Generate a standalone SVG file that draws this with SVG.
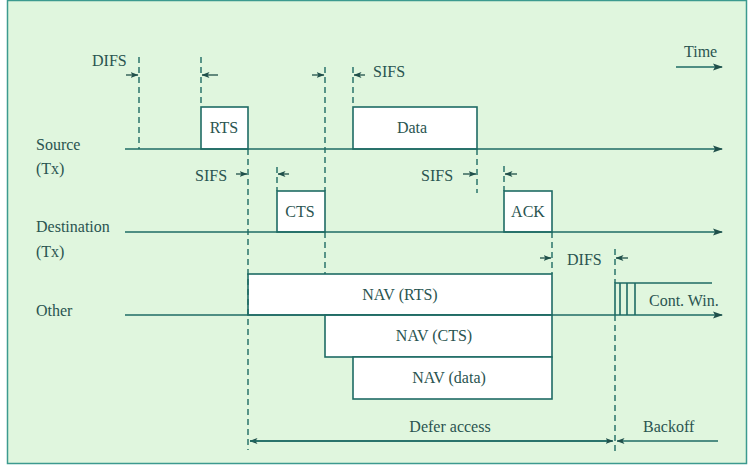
<svg xmlns="http://www.w3.org/2000/svg" width="748" height="468" viewBox="0 0 748 468">
<defs>
<marker id="ah" markerWidth="10" markerHeight="8" refX="9" refY="4" orient="auto" markerUnits="userSpaceOnUse">
<path d="M0,0.5 L10,4 L0,7.5 L2,4 Z" fill="#1f4f4a"/>
</marker>
<marker id="sh" markerWidth="8" markerHeight="6" refX="7.5" refY="3" orient="auto" markerUnits="userSpaceOnUse">
<path d="M0,0 L8,3 L0,6 L2,3 Z" fill="#1f4f4a"/>
</marker>
</defs>
<style>
text{font-family:"Liberation Serif","Times New Roman",serif;font-size:16px;fill:#2a5450}
.c{text-anchor:middle}
.ln{stroke:#1f6b64;stroke-width:1.6;fill:none}
.dash{stroke:#1f6b64;stroke-width:1.4;stroke-dasharray:6,4;fill:none}
.box{fill:#ffffff;stroke:#1f6b64;stroke-width:1.6}
.dim{stroke:#1f4f4a;stroke-width:1.3;fill:none;marker-end:url(#sh)}
</style>
<rect x="7.5" y="0.5" width="739" height="463" fill="#e0f6de" stroke="#3c9a8f" stroke-width="1.5"/>

<g id="labels">
<text x="36" y="150">Source</text>
<text x="36" y="174">(Tx)</text>
<text x="36" y="232">Destination</text>
<text x="36" y="257">(Tx)</text>
<text x="36" y="316">Other</text>
</g>

<g id="time">
<text x="684" y="57">Time</text>
<line x1="676" y1="67" x2="722" y2="67" class="ln" marker-end="url(#ah)"/>
</g>

<g id="rts"><rect x="201" y="107" width="47" height="42" class="box"/><text x="224" y="133" class="c">RTS</text></g>
<g id="data"><rect x="353" y="107" width="124" height="42" class="box"/><text x="412" y="133" class="c">Data</text></g>
<g id="cts"><rect x="277" y="191" width="48" height="41" class="box"/><text x="300" y="217" class="c">CTS</text></g>
<g id="ack"><rect x="504" y="191" width="48" height="41" class="box"/><text x="528" y="217" class="c">ACK</text></g>
<g id="nav-rts"><rect x="248" y="274" width="304" height="41" class="box"/><text x="400" y="300" class="c">NAV (RTS)</text></g>
<g id="nav-cts"><rect x="325" y="315" width="227" height="42" class="box"/><text x="434" y="341" class="c">NAV (CTS)</text></g>
<g id="nav-data"><rect x="353" y="357" width="199" height="42" class="box"/><text x="449" y="383" class="c">NAV (data)</text></g>

<g id="contwin">
<path d="M615,315 L615,283 L712,283" class="ln"/>
<line x1="620" y1="283" x2="620" y2="315" class="ln"/>
<line x1="627" y1="283" x2="627" y2="315" class="ln"/>
<line x1="635" y1="283" x2="635" y2="315" class="ln"/>
<text x="649" y="306">Cont. Win.</text>
</g>

<g id="connectors">
<line x1="125" y1="149" x2="722" y2="149" class="ln" marker-end="url(#ah)"/>
<line x1="125" y1="232" x2="722" y2="232" class="ln" marker-end="url(#ah)"/>
<line x1="125" y1="315" x2="722" y2="315" class="ln" marker-end="url(#ah)"/>

<line x1="139" y1="57" x2="139" y2="149" class="dash"/>
<line x1="201" y1="57" x2="201" y2="107" class="dash"/>
<line x1="248" y1="149" x2="248" y2="450" class="dash"/>
<line x1="277" y1="167" x2="277" y2="191" class="dash"/>
<line x1="325" y1="67" x2="325" y2="191" class="dash"/>
<line x1="325" y1="232" x2="325" y2="274" class="dash"/>
<line x1="353" y1="67" x2="353" y2="107" class="dash"/>
<line x1="477" y1="149" x2="477" y2="193" class="dash"/>
<line x1="504" y1="166" x2="504" y2="191" class="dash"/>
<line x1="552" y1="232" x2="552" y2="274" class="dash"/>
<line x1="615" y1="249" x2="615" y2="283" class="dash"/>
<line x1="615" y1="315" x2="615" y2="452" class="dash"/>

<line x1="126" y1="75" x2="138" y2="75" class="dim"/>
<line x1="218" y1="75" x2="202" y2="75" class="dim"/>
<line x1="236" y1="174" x2="247" y2="174" class="dim"/>
<line x1="289" y1="174" x2="278" y2="174" class="dim"/>
<line x1="312" y1="75" x2="324" y2="75" class="dim"/>
<line x1="365" y1="75" x2="354" y2="75" class="dim"/>
<line x1="463" y1="174" x2="476" y2="174" class="dim"/>
<line x1="517" y1="174" x2="505" y2="174" class="dim"/>
<line x1="540" y1="258" x2="551" y2="258" class="dim"/>
<line x1="628" y1="258" x2="616" y2="258" class="dim"/>

<line x1="612" y1="441" x2="250" y2="441" class="ln" marker-end="url(#sh)"/>
<line x1="250" y1="441" x2="613" y2="441" class="ln" marker-end="url(#sh)"/>
<line x1="718" y1="441" x2="617" y2="441" class="ln" marker-end="url(#sh)"/>
</g>

<g id="timing-labels">
<text x="92" y="66">DIFS</text>
<text x="373" y="77">SIFS</text>
<text x="195" y="181">SIFS</text>
<text x="421" y="181">SIFS</text>
<text x="567" y="265">DIFS</text>
<text x="450" y="432" class="c">Defer access</text>
<text x="643" y="432">Backoff</text>
</g>
</svg>
